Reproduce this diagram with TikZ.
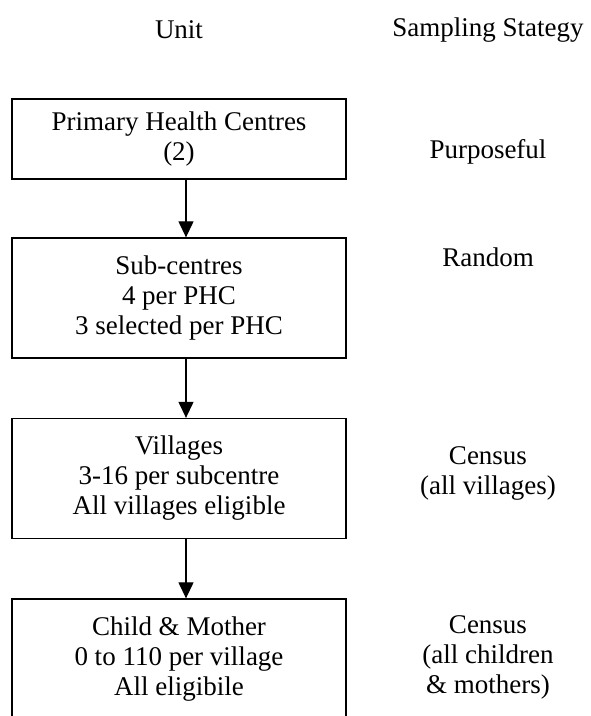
\documentclass[tikz,border=0pt]{standalone}
\usepackage{fontspec}
\setmainfont{Liberation Serif}
\usetikzlibrary{arrows.meta, positioning}

\begin{document}
\begin{tikzpicture}[
        x=1pt, y=1pt,
        box/.style={rectangle, draw=black, line width=1.3pt, minimum width=334pt, minimum height=120pt, align=center, font=\fontsize{27}{30}\selectfont},
        note/.style={align=center, font=\fontsize{27}{30}\selectfont},
        arrow/.style={-{Triangle[length=16pt, width=15pt]}, line width=1.2pt}
    ]
        \useasboundingbox (0,0) rectangle (591,716);

        % Column headings
        \node[note] (unit) at (179, 686) {Unit};
        \node[note] (strategy) at (488, 686) {Sampling Stategy};

        % Units
        \node[box, minimum height=80pt] (phc) at (179, 577) {Primary Health Centres\\(2)};
        \node[box] (subc) at (179, 418) {Sub-centres\\4 per PHC\\3 selected per PHC};
        \node[box] (vill) at (179, 237.5) {Villages\\3-16 per subcentre\\All villages eligible};
        \node[box] (child) at (179, 57) {Child \& Mother\\0 to 110 per village\\All eligibile};

        \draw[arrow] ([xshift=7pt]phc.south) -- ([xshift=7pt]subc.north);
        \draw[arrow] ([xshift=7pt]subc.south) -- ([xshift=7pt]vill.north);
        \draw[arrow] ([xshift=7pt]vill.south) -- ([xshift=7pt]child.north);

        % Strategies
        \node[note] (purp) at (488, 564) {Purposeful};
        \node[note] (rand) at (488, 459) {Random};
        \node[note] (censv) at (488, 243) {Census\\(all villages)};
        \node[note] (censc) at (488, 59) {Census\\(all children\\\& mothers)};
\end{tikzpicture}
\end{document}
